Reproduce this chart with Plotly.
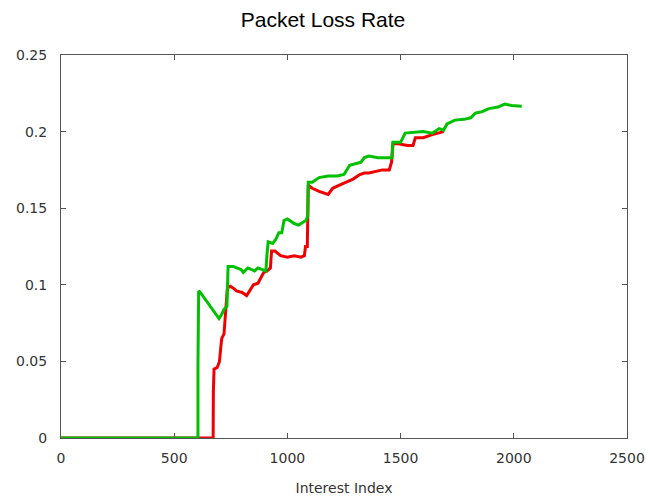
import plotly.graph_objects as go

# Red series (Interest Index, loss rate)
red_x = [0, 672, 673, 676, 690, 700, 705, 710, 720, 725, 728, 735, 748, 760, 775, 800,
         820, 835, 850, 870, 880, 895, 910, 925, 930, 945, 970, 1000, 1030, 1060, 1075,
         1080, 1088, 1090, 1092, 1110, 1140, 1180, 1200, 1230, 1260, 1290, 1320, 1340,
         1360, 1390, 1420, 1450, 1460, 1466, 1490, 1530, 1555, 1565, 1600, 1640, 1660, 1690]
red_y = [0, 0, 0.03, 0.045, 0.046, 0.050, 0.058, 0.065, 0.068, 0.080, 0.086, 0.098, 0.099,
         0.098, 0.096, 0.095, 0.093, 0.097, 0.100, 0.101, 0.104, 0.108, 0.109, 0.111, 0.122,
         0.122, 0.119, 0.118, 0.119, 0.118, 0.119, 0.125, 0.125, 0.143, 0.165, 0.163, 0.161,
         0.159, 0.163, 0.165, 0.167, 0.169, 0.172, 0.173, 0.173, 0.174, 0.175, 0.175, 0.180,
         0.192, 0.192, 0.191, 0.191, 0.196, 0.196, 0.198, 0.199, 0.200]

# Green series
green_x = [0, 605, 605, 608, 614, 698, 711, 720, 733, 735, 738, 760, 795, 805, 825, 840,
           855, 870, 905, 910, 915, 935, 950, 962, 975, 985, 1000, 1030, 1050, 1070, 1082,
           1090, 1092, 1110, 1140, 1180, 1220, 1250, 1265, 1275, 1300, 1325, 1340, 1360,
           1400, 1462, 1466, 1500, 1520, 1600, 1640, 1670, 1690, 1705, 1740, 1780, 1810,
           1830, 1860, 1890, 1930, 1960, 1990, 2035]
green_y = [0, 0, 0.048, 0.096, 0.0953, 0.078, 0.081, 0.084, 0.086, 0.100, 0.112, 0.112,
           0.110, 0.108, 0.111, 0.110, 0.109, 0.111, 0.109, 0.120, 0.128, 0.127, 0.130,
           0.134, 0.134, 0.142, 0.143, 0.140, 0.139, 0.141, 0.142, 0.145, 0.167, 0.167,
           0.170, 0.171, 0.171, 0.172, 0.176, 0.178, 0.179, 0.180, 0.183, 0.184, 0.183,
           0.183, 0.193, 0.193, 0.199, 0.200, 0.199, 0.202, 0.201, 0.205, 0.2075, 0.208,
           0.209, 0.212, 0.213, 0.215, 0.216, 0.218, 0.217, 0.2165]

x_ticks = [0, 500, 1000, 1500, 2000, 2500]
y_ticks = [0, 0.05, 0.1, 0.15, 0.2, 0.25]
y_tick_labels = ["0", "0.05", "0.1", "0.15", "0.2", "0.25"]

fig = go.Figure()
fig.add_trace(go.Scatter(x=red_x, y=red_y, mode="lines",
                         line=dict(color="#f00000", width=3), showlegend=False))
fig.add_trace(go.Scatter(x=green_x, y=green_y, mode="lines",
                         line=dict(color="#00c000", width=3), showlegend=False))

axis_common = dict(showline=True, linecolor="#555555", linewidth=1, mirror="ticks",
                   ticks="inside", ticklen=5, tickcolor="#555555", showgrid=False,
                   zeroline=False, automargin=False, ticklabeloverflow="allow",
                   tickfont=dict(family="DejaVu Sans", size=14, color="#333333"))

fig.update_layout(
    width=646, height=498,
    margin=dict(l=61, r=19, t=55, b=60),
    paper_bgcolor="white", plot_bgcolor="white",
    title=dict(text="Packet Loss Rate", x=0.5, xref="container", xanchor="center",
               y=0.96, yref="container", yanchor="middle",
               font=dict(family="Liberation Sans", size=21, color="black")),
    xaxis=dict(range=[0, 2500], tickvals=x_ticks, ticklabelstandoff=7,
               title=dict(text="Interest Index", standoff=18,
                          font=dict(family="DejaVu Sans", size=14, color="#333333")),
               **axis_common),
    yaxis=dict(range=[0, 0.25], tickvals=y_ticks, ticktext=y_tick_labels,
               ticklabelstandoff=10, **axis_common),
)

fig.write_html("out.html")
